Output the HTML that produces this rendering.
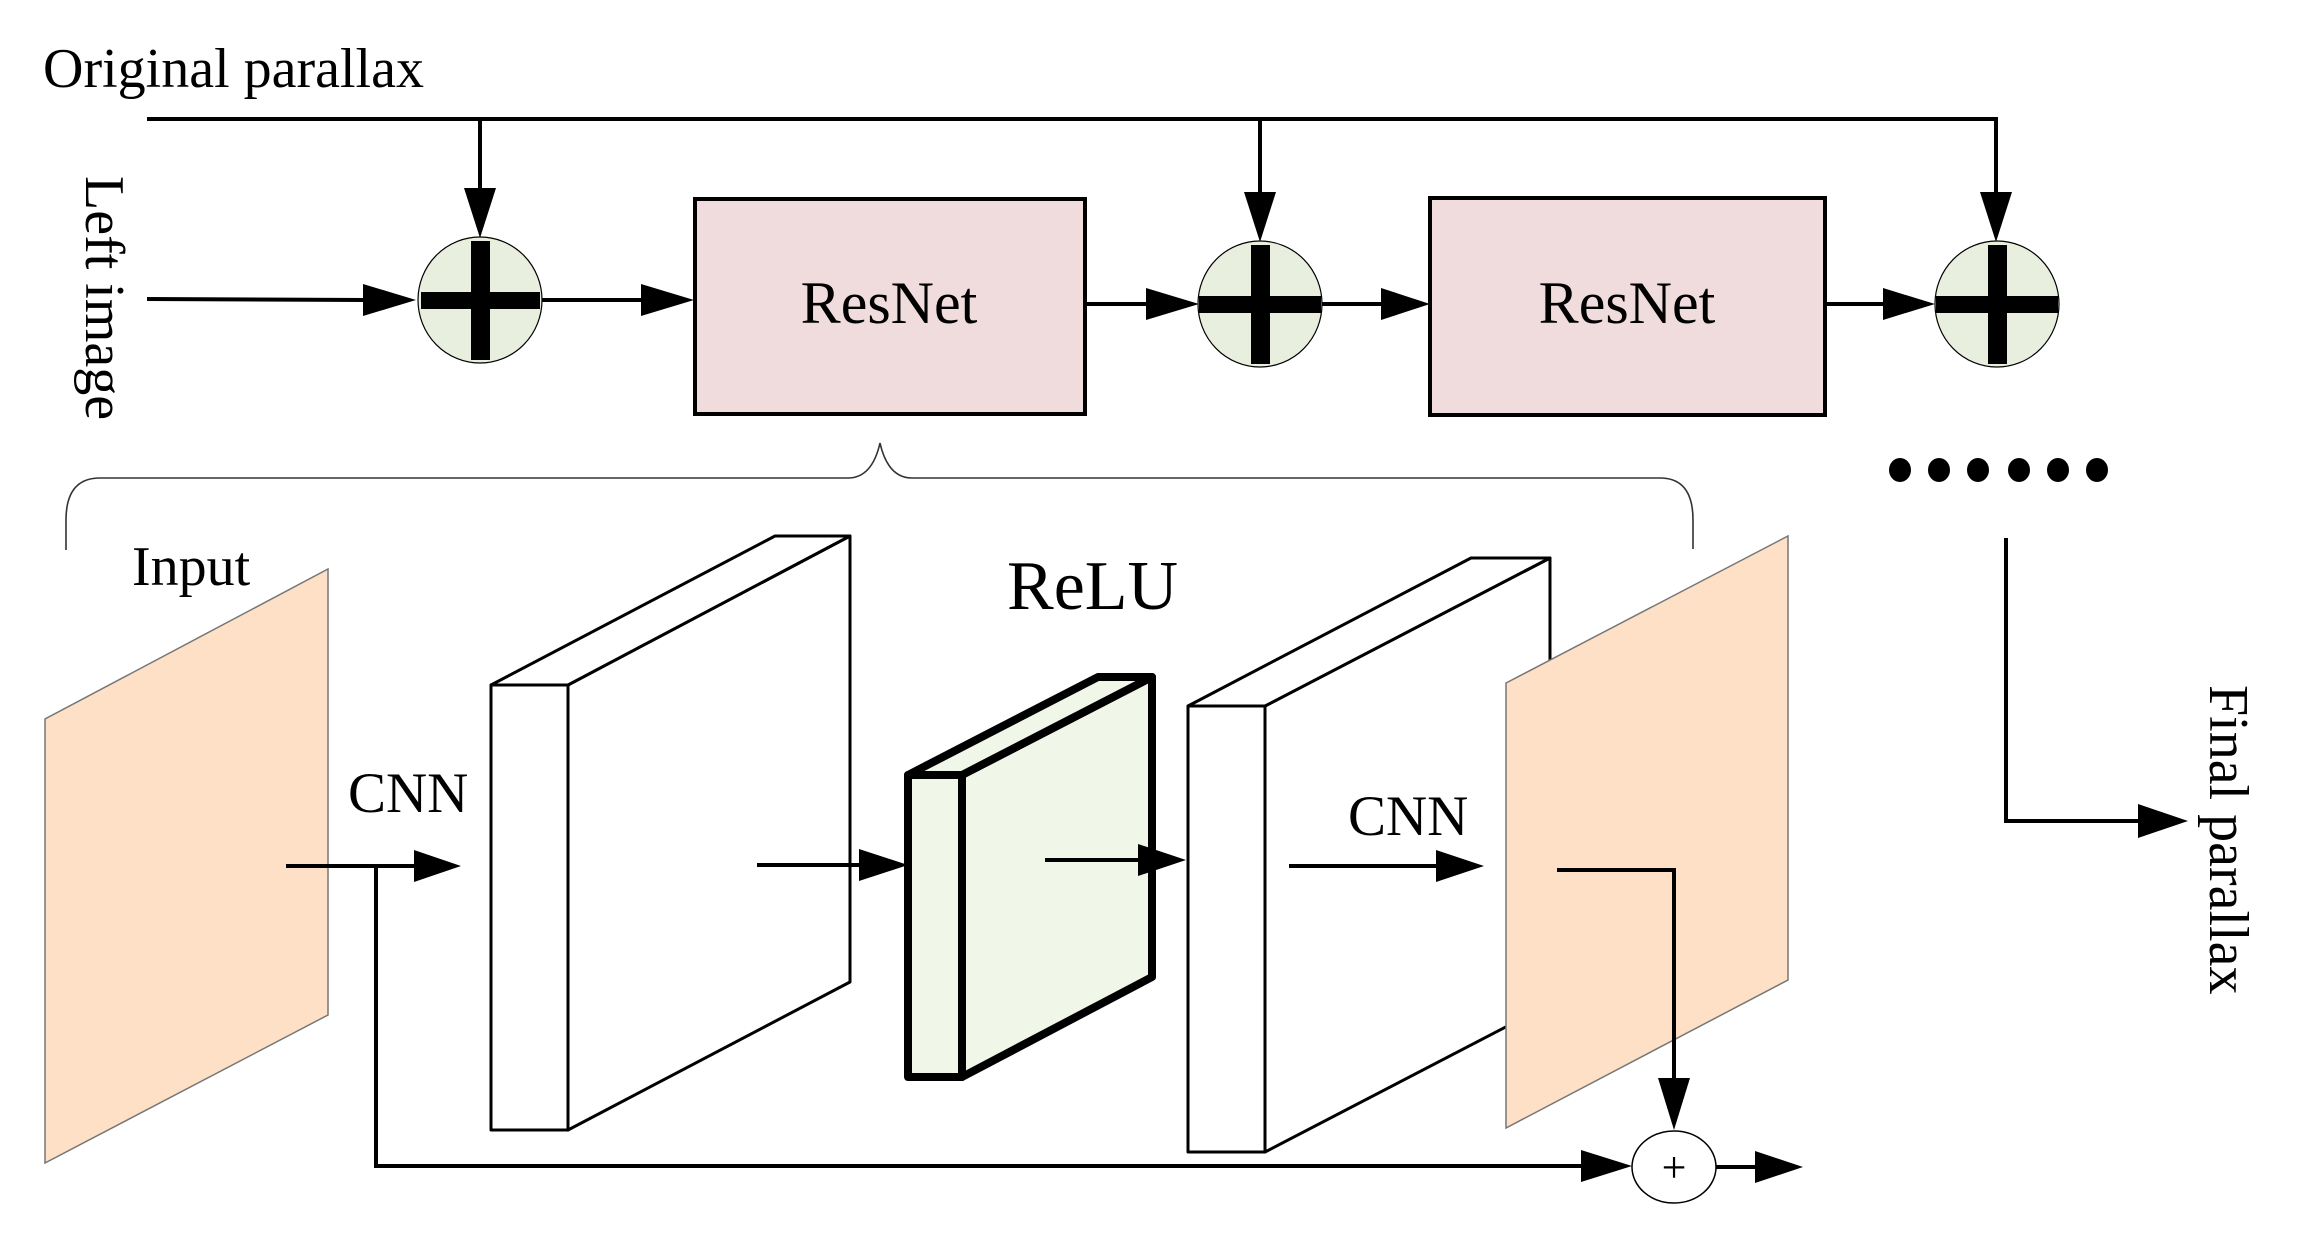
<!DOCTYPE html>
<html><head><meta charset="utf-8"><style>
html,body{margin:0;padding:0;background:#fff;}
svg{display:block;}
text{font-family:"Liberation Serif",serif;fill:#000;}
</style></head><body>
<svg width="2299" height="1239" viewBox="0 0 2299 1239" xmlns="http://www.w3.org/2000/svg">
<!-- top texts -->
<text x="43" y="87" font-size="56">Original parallax</text>
<text x="0" y="0" font-size="56" transform="translate(86,176) rotate(90)">Left image</text>
<text x="0" y="0" font-size="56" transform="translate(2210,685) rotate(90)">Final parallax</text>

<!-- top bus -->
<g stroke="#000" stroke-width="4" fill="none">
<polyline points="147,119 1996,119 1996,192"/>
<line x1="480" y1="119" x2="480" y2="190"/>
<line x1="1260" y1="119" x2="1260" y2="192"/>
<line x1="147" y1="299" x2="365" y2="300"/>
<line x1="540" y1="300" x2="645" y2="300"/>
<line x1="1085" y1="304" x2="1160" y2="304"/>
<line x1="1322" y1="304" x2="1385" y2="304"/>
<line x1="1825" y1="304" x2="1890" y2="304"/>
<polyline points="2006,538 2006,821 2140,821"/>
</g>
<g fill="#000">
<polygon points="464,188 496,188 480,238"/>
<polygon points="1244,192 1276,192 1260,242"/>
<polygon points="1980,192 2012,192 1996,242"/>
<polygon points="363,284 363,316 416,300"/>
<polygon points="641,284 641,316 694,300"/>
<polygon points="1146,288 1146,320 1199,304"/>
<polygon points="1381,288 1381,320 1430,304"/>
<polygon points="1883,288 1883,320 1935,304"/>
<polygon points="2138,804 2138,838 2188,821"/>
</g>

<!-- plus circles -->
<g>
<ellipse cx="480" cy="300" rx="62" ry="63" fill="#e9efdf" stroke="#000" stroke-width="1.2"/>
<rect x="421" y="292" width="119" height="17" fill="#000"/>
<rect x="471" y="241" width="19" height="119" fill="#000"/>
<ellipse cx="1260" cy="304" rx="62" ry="63" fill="#e9efdf" stroke="#000" stroke-width="1.2"/>
<rect x="1199" y="296" width="122" height="17" fill="#000"/>
<rect x="1251" y="245" width="19" height="119" fill="#000"/>
<ellipse cx="1997" cy="304" rx="62" ry="63" fill="#e9efdf" stroke="#000" stroke-width="1.2"/>
<rect x="1936" y="296" width="122" height="17" fill="#000"/>
<rect x="1988" y="245" width="19" height="119" fill="#000"/>
</g>

<!-- ResNet boxes -->
<rect x="695" y="199" width="390" height="215" fill="#f0dcdc" stroke="#000" stroke-width="4"/>
<text x="889" y="323" font-size="60" text-anchor="middle">ResNet</text>
<rect x="1430" y="198" width="395" height="217" fill="#f0dcdc" stroke="#000" stroke-width="4"/>
<text x="1627" y="323" font-size="60" text-anchor="middle">ResNet</text>

<!-- dots -->
<g fill="#000">
<ellipse cx="1900" cy="470" rx="11" ry="12"/>
<ellipse cx="1939" cy="470" rx="11" ry="12"/>
<ellipse cx="1978" cy="470" rx="11" ry="12"/>
<ellipse cx="2019" cy="470" rx="11" ry="12"/>
<ellipse cx="2058" cy="470" rx="11" ry="12"/>
<ellipse cx="2097" cy="470" rx="11" ry="12"/>
</g>

<!-- brace -->
<path d="M66,550 L66,520 Q66,478 100,478 L848,478 Q872,478 880,443 Q888,478 912,478 L1660,478 Q1693,478 1693,520 L1693,549" fill="none" stroke="#333" stroke-width="1.6"/>

<!-- input parallelogram -->
<polygon points="328,569 328,1015 45,1163 45,719" fill="#fde0c5" stroke="#777" stroke-width="1.5"/>

<!-- box1 -->
<g stroke="#000" stroke-width="3" fill="#fff" stroke-linejoin="round">
<polygon points="568,685 850,536 850,982 568,1130"/>
<polygon points="491,685 775,536 850,536 568,685"/>
<rect x="491" y="685" width="77" height="445"/>
</g>

<!-- relu slab -->
<g stroke="#000" stroke-width="8" fill="#f0f7e8" stroke-linejoin="round">
<polygon points="962,775 1152,677 1152,977 962,1077"/>
<polygon points="908,775 1098,677 1152,677 962,775"/>
<rect x="908" y="775" width="54" height="302"/>
</g>

<!-- box2 -->
<g stroke="#000" stroke-width="3" fill="#fff" stroke-linejoin="round">
<polygon points="1265,706 1550,558 1550,1004 1265,1152"/>
<polygon points="1188,706 1471,558 1550,558 1265,706"/>
<rect x="1188" y="706" width="77" height="446"/>
</g>

<!-- output parallelogram -->
<polygon points="1506,683 1788,536 1788,980 1506,1128" fill="#fde0c5" stroke="#777" stroke-width="1.5"/>

<!-- bottom texts -->
<text x="132" y="585" font-size="56">Input</text>
<text x="1007" y="609" font-size="70">ReLU</text>
<text x="348" y="812" font-size="57">CNN</text>
<text x="1348" y="835" font-size="57">CNN</text>

<!-- bottom arrows -->
<g stroke="#000" stroke-width="4" fill="none">
<line x1="286" y1="866" x2="420" y2="866"/>
<polyline points="376,866 376,1166 1585,1166"/>
<line x1="757" y1="865" x2="862" y2="865"/>
<line x1="1045" y1="860" x2="1140" y2="860"/>
<line x1="1289" y1="866" x2="1440" y2="866"/>
<polyline points="1557,870 1674,870 1674,1080"/>
<line x1="1716" y1="1167" x2="1758" y2="1167"/>
</g>
<g fill="#000">
<polygon points="414,850 414,882 461,866"/>
<polygon points="859,849 859,881 908,865"/>
<polygon points="1138,844 1138,876 1186,860"/>
<polygon points="1436,850 1436,882 1484,866"/>
<polygon points="1658,1078 1690,1078 1674,1130"/>
<polygon points="1581,1150 1581,1182 1632,1166"/>
<polygon points="1755,1151 1755,1183 1803,1167"/>
</g>
<ellipse cx="1674" cy="1167" rx="42" ry="36" fill="#fff" stroke="#000" stroke-width="1.5"/>
<text x="1674" y="1182" font-size="44" text-anchor="middle">+</text>
</svg>
</body></html>
